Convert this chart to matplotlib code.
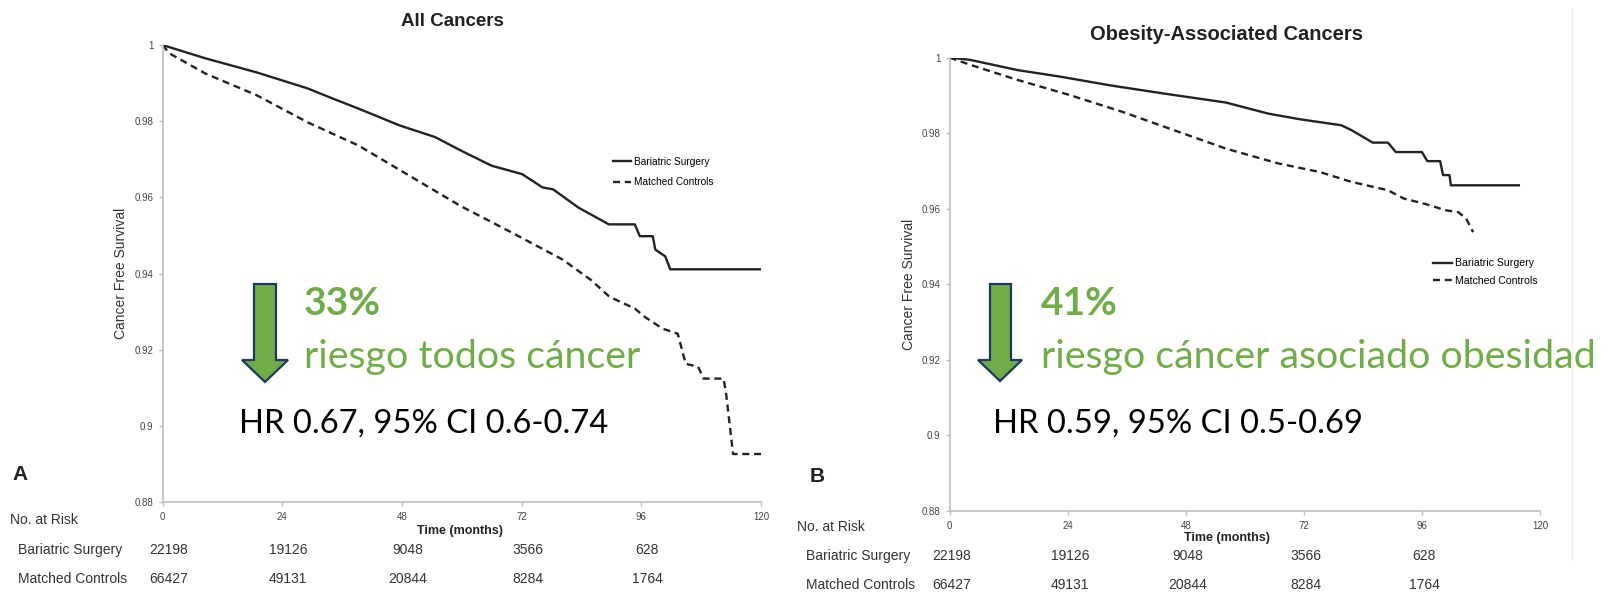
import matplotlib
matplotlib.use('Agg')
import matplotlib.pyplot as plt
import matplotlib.transforms as mtransforms
from matplotlib.patches import Polygon
from matplotlib.lines import Line2D

W, H = 1613, 593

month_ticks = [0, 24, 48, 72, 96, 120]
surv_ticks = [0.88, 0.9, 0.92, 0.94, 0.96, 0.98, 1.0]
surv_labels = ['0.88', '0.9', '0.92', '0.94', '0.96', '0.98', '1']

# All cancers - bariatric surgery
all_bs_t = [0, 8.6, 18.9, 29.1, 34.2, 39.3, 47.5, 54.7, 59.8, 66.0, 72.1, 76.2, 78.3,
            83.4, 89.5, 94.7, 95.7, 98.3, 98.8, 100.8, 101.8, 120]
all_bs_s = [1.0, 0.9965, 0.9928, 0.9886, 0.9859, 0.9833, 0.9789, 0.9758, 0.9723, 0.9683,
            0.9661, 0.9626, 0.9621, 0.9573, 0.9529, 0.9529, 0.9498, 0.9498, 0.9463, 0.9445,
            0.9411, 0.9411]
# All cancers - matched controls
all_mc_t = [0, 1.4, 8.6, 18.9, 29.1, 39.3, 49.6, 59.8, 70.1, 80.3, 86.0, 89.6, 94.7, 96.7,
            100.3, 103.3, 104.9, 107.4, 108.5, 112.5, 113.0, 114.4, 120]
all_mc_s = [1.0, 0.9978, 0.9925, 0.9868, 0.9797, 0.9736, 0.9656, 0.9577, 0.9507, 0.9436,
            0.9382, 0.9339, 0.9308, 0.9286, 0.9255, 0.9242, 0.9163, 0.9155, 0.9124, 0.9124,
            0.9085, 0.8926, 0.8926]

# Obesity-associated cancers - bariatric surgery
obe_bs_t = [0, 4.2, 13.8, 22.3, 32.9, 43.5, 56.2, 64.7, 71.1, 79.6, 81.7, 86.0, 89.1, 90.7,
            96.0, 97.1, 99.7, 100.3, 101.6, 101.9, 115.7]
obe_bs_s = [1.0, 0.9994, 0.9967, 0.9950, 0.9926, 0.9905, 0.9881, 0.9852, 0.9837, 0.9821,
            0.9808, 0.9775, 0.9775, 0.9750, 0.9750, 0.9726, 0.9726, 0.9689, 0.9689, 0.9662,
            0.9662]
# Obesity-associated cancers - matched controls
obe_mc_t = [0, 4.2, 13.8, 24.4, 35.0, 45.6, 56.2, 66.8, 75.3, 81.7, 89.1, 92.3, 96.6, 100.8,
            103.4, 105.0, 106.4]
obe_mc_s = [1.0, 0.9981, 0.9941, 0.9901, 0.9857, 0.9808, 0.9759, 0.9720, 0.9697, 0.9671,
            0.9649, 0.9627, 0.9613, 0.9596, 0.9591, 0.9574, 0.9538]

risk_t = [0, 24, 48, 72, 96]
risk_bs = [22198, 19126, 9048, 3566, 628]
risk_mc = [66427, 49131, 20844, 8284, 1764]

green = '#70AD47'
navy = '#1F3864'
axis_grey = '#BFBFBF'
big_font = 'Lato'

plt.rcParams['font.family'] = 'Liberation Sans'


def fx(px):
    return px / W


def fy(py):
    return 1 - py / H


def km_panel(fig, box, bs_t, bs_s, mc_t, mc_s, title, title_size, title_xy, xlabel_xy,
             leg_xy, leg_size, leg_space, label_x_off, risk_y, row_x, risk_off, letter, letter_xy):
    left, top, right, bottom = box
    ax = fig.add_axes([fx(left), fy(bottom), fx(right) - fx(left), fy(top) - fy(bottom)])
    l1, = ax.plot(bs_t, bs_s, color='#222222', lw=1.7, label='Bariatric Surgery')
    l2, = ax.plot(mc_t, mc_s, color='#222222', lw=1.7, ls=(0, (3, 2)), label='Matched Controls')
    ax.set_xlim(0, 120)
    ax.set_ylim(0.88, 1.0)
    ax.set_xticks(month_ticks)
    ax.set_yticks(surv_ticks)
    ax.set_yticklabels(surv_labels)
    for s in ['top', 'right']:
        ax.spines[s].set_visible(False)
    for s in ['left', 'bottom']:
        ax.spines[s].set_color(axis_grey)
        ax.spines[s].set_linewidth(1.2)
    ax.tick_params(axis='both', colors=axis_grey, labelcolor='#444444', labelsize=7,
                   length=3, width=1)
    ax.tick_params(axis='x', pad=4)
    ax.set_ylabel('Cancer Free Survival', fontsize=10, color='#333333')
    ax.yaxis.set_label_coords(label_x_off, 0.5)

    fig.text(fx(title_xy[0]), fy(title_xy[1]), title, fontsize=title_size, fontweight='bold',
             ha='center', va='center', color='#222222')
    fig.text(fx(xlabel_xy[0]), fy(xlabel_xy[1]), 'Time (months)', fontsize=9,
             fontweight='bold', ha='center', va='center', color='#222222')

    ax.legend(handles=[l1, l2], loc='center left', frameon=False, fontsize=leg_size,
              handlelength=1.8, handletextpad=0.3, labelspacing=leg_space,
              borderpad=0, borderaxespad=0,
              bbox_to_anchor=(fx(leg_xy[0]), fy(leg_xy[1])), bbox_transform=fig.transFigure)

    # number at risk table
    tr = mtransforms.blended_transform_factory(ax.transData, fig.transFigure)
    fig.text(fx(row_x[0]), fy(risk_y[0]), 'No. at Risk', fontsize=10, va='center', color='#333333')
    fig.text(fx(row_x[1]), fy(risk_y[1]), 'Bariatric Surgery', fontsize=10, va='center', color='#333333')
    fig.text(fx(row_x[1]), fy(risk_y[2]), 'Matched Controls', fontsize=10, va='center', color='#333333')
    for t, a, b in zip(risk_t, risk_bs, risk_mc):
        ax.text(t + risk_off, fy(risk_y[1]), str(a), transform=tr, fontsize=10,
                ha='center', va='center', color='#333333')
        ax.text(t + risk_off, fy(risk_y[2]), str(b), transform=tr, fontsize=10,
                ha='center', va='center', color='#333333')

    fig.text(fx(letter_xy[0]), fy(letter_xy[1]), letter, fontsize=15, fontweight='bold',
             va='center', color='#222222')
    return ax


def down_arrow(fig, x0, x1, hx0, hx1, top, base, tip):
    pts = [(x0, top), (x1, top), (x1, base), (hx1, base), ((hx0 + hx1) / 2, tip),
           (hx0, base), (x0, base)]
    pts = [(fx(x), fy(y)) for x, y in pts]
    fig.patches.append(Polygon(pts, closed=True, facecolor=green, edgecolor=navy, lw=1.6,
                               transform=fig.transFigure, figure=fig, joinstyle='miter'))


def callout(fig, x, pct, text, hr_x, hr):
    fig.text(fx(x), fy(315), pct, fontsize=28, fontweight='bold', color=green,
             family=big_font, va='baseline')
    fig.text(fx(x), fy(368), text, fontsize=28.4, color=green, family=big_font, va='baseline')
    fig.text(fx(hr_x), fy(433), hr, fontsize=23.6, color='black', family=big_font, va='baseline')


fig = plt.figure(figsize=(W / 100, H / 100), dpi=100)

km_panel(fig, (162.5, 45, 761, 502), all_bs_t, all_bs_s, all_mc_t, all_mc_s,
         'All Cancers', 13.5, (452, 21), (460, 531), (613, 172), 7.3, 1.0, -0.058,
         (520, 550, 579), (10, 18.5), 1.2, 'A', (12, 475))
km_panel(fig, (949.5, 57.6, 1540, 511), obe_bs_t, obe_bs_s, obe_mc_t, obe_mc_s,
         'Obesity-Associated Cancers', 14.5, (1227, 34), (1227, 538), (1433, 272), 7.6, 0.7, -0.056,
         (527, 556, 585), (797, 805.5), 0.5, 'B', (810, 477))

# faint edge of the right panel
fig.add_artist(Line2D([fx(1572), fx(1572)], [fy(8), fy(560)], color='#EEEEEE', lw=1,
                      transform=fig.transFigure))

down_arrow(fig, 254, 276, 242, 288, 284, 360, 382)
down_arrow(fig, 990, 1011, 978, 1022, 284, 360, 381)

callout(fig, 304, '33%', 'riesgo todos cáncer', 239, 'HR 0.67, 95% CI 0.6-0.74')
callout(fig, 1041, '41%', 'riesgo cáncer asociado obesidad', 993, 'HR 0.59, 95% CI 0.5-0.69')

fig.savefig('out.png', dpi=100)
